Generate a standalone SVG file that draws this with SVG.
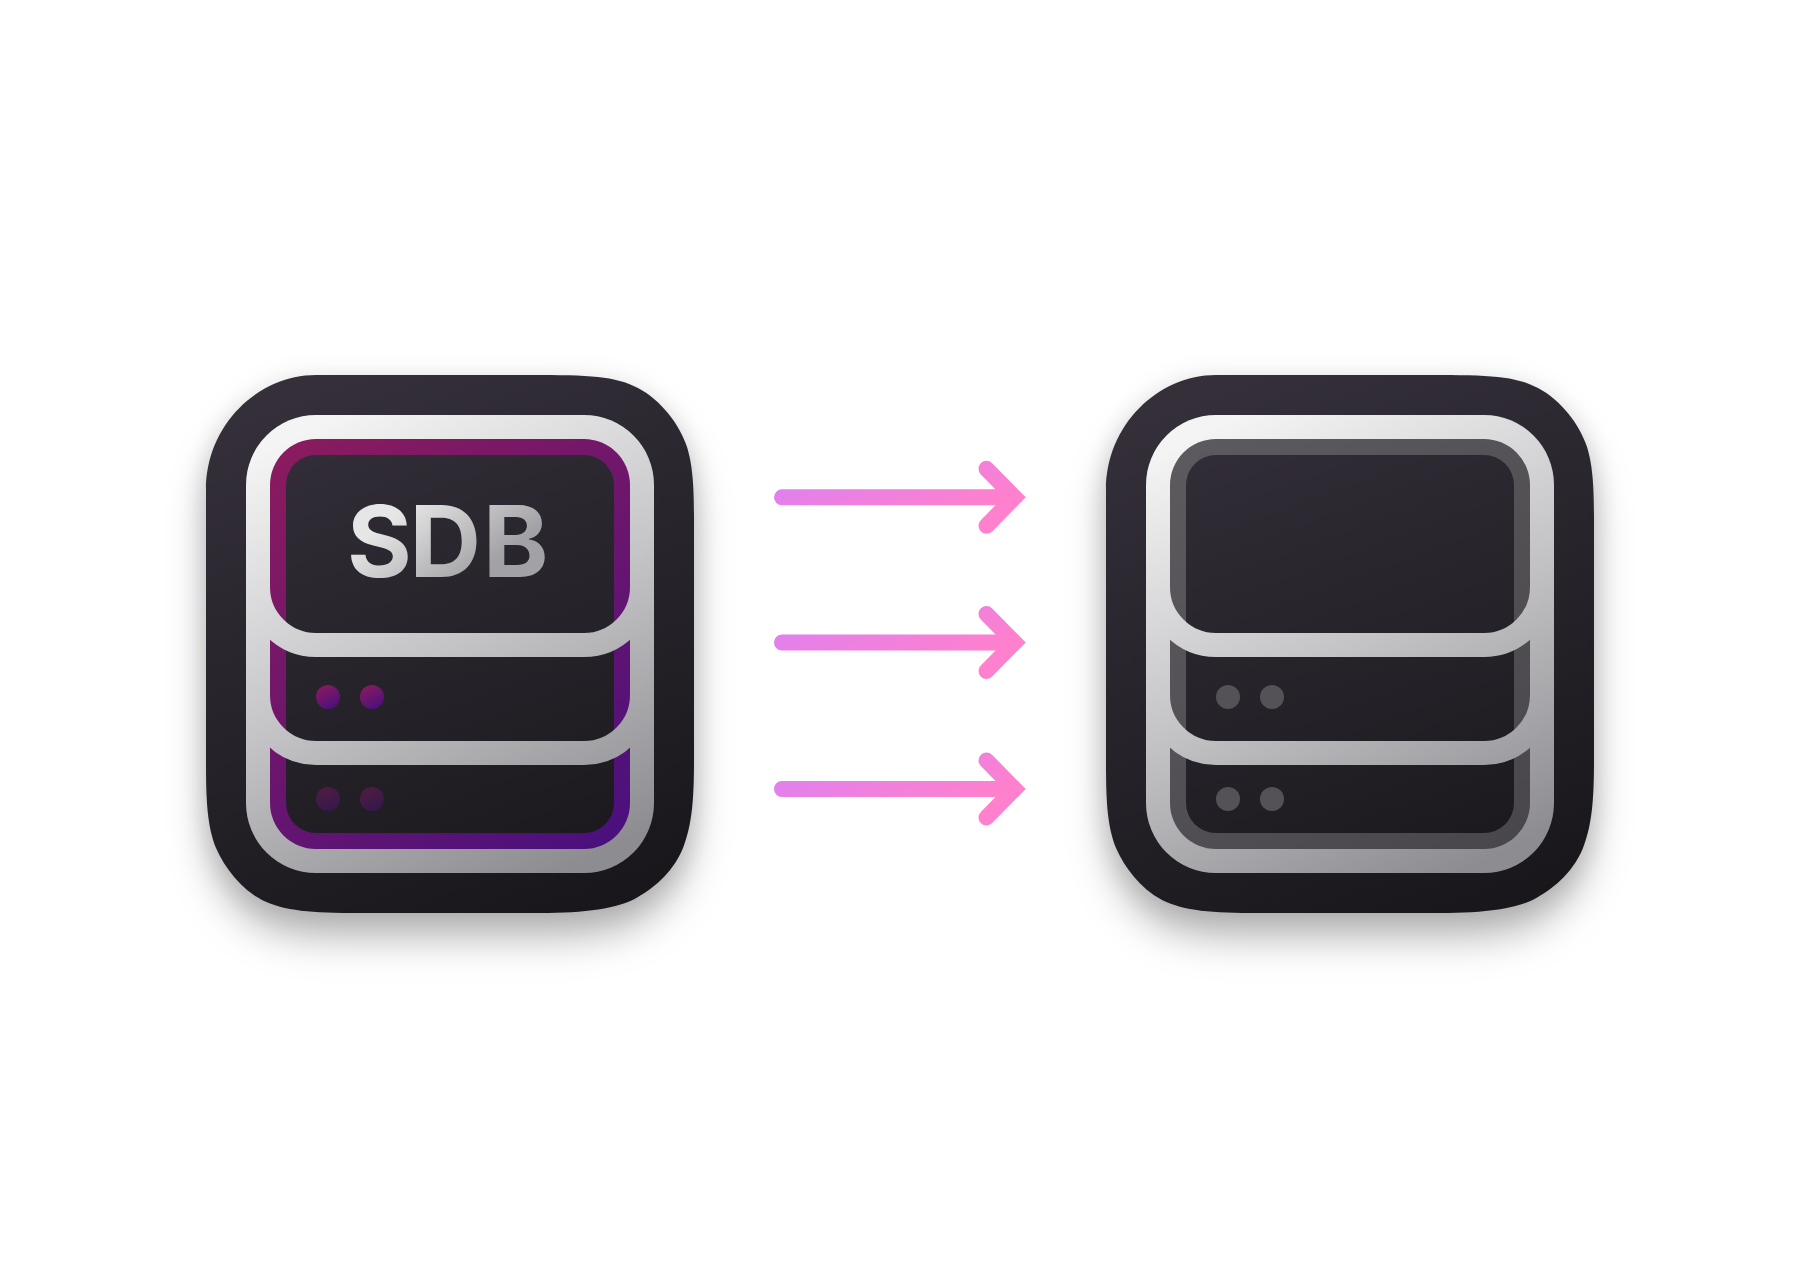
<svg xmlns="http://www.w3.org/2000/svg" width="1800" height="1286" viewBox="0 0 1800 1286">
<style>
.silver{fill:url(#silverL)}
.band{fill:none;stroke-width:24;stroke:url(#silverL)}
.arrow{fill:none;stroke:url(#pink);stroke-width:16;stroke-linecap:round;stroke-linejoin:miter}
.gd{fill:#545257}
.label{font-family:"Inter","Liberation Sans",sans-serif;font-weight:700;font-size:99px;fill:url(#txt)}
</style>
<defs>
<filter id="sh" x="-30%" y="-30%" width="160%" height="160%" color-interpolation-filters="sRGB">
<feDropShadow dx="0" dy="4" stdDeviation="14" flood-color="#000" flood-opacity=".12"/>
<feDropShadow dx="0" dy="26" stdDeviation="18" flood-color="#000" flood-opacity=".26"/>
</filter>
<linearGradient id="bodyL" gradientUnits="userSpaceOnUse" x1="350" y1="375" x2="550" y2="913"><stop offset="0" stop-color="#342f39"/><stop offset="1" stop-color="#19171c"/></linearGradient>
<linearGradient id="bodyR" gradientUnits="userSpaceOnUse" x1="1250" y1="375" x2="1450" y2="913"><stop offset="0" stop-color="#342f39"/><stop offset="1" stop-color="#19171c"/></linearGradient>
<linearGradient id="silverL" gradientUnits="userSpaceOnUse" x1="340" y1="415" x2="560" y2="873"><stop offset="0" stop-color="#f4f4f4"/><stop offset=".5" stop-color="#c4c4c7"/><stop offset="1" stop-color="#8d8d91"/></linearGradient>
<linearGradient id="silverR" gradientUnits="userSpaceOnUse" x1="1240" y1="415" x2="1460" y2="873"><stop offset="0" stop-color="#f4f4f4"/><stop offset=".5" stop-color="#c4c4c7"/><stop offset="1" stop-color="#8d8d91"/></linearGradient>
<linearGradient id="purple" gradientUnits="userSpaceOnUse" x1="300" y1="439" x2="600" y2="849"><stop offset="0" stop-color="#8a1b5e"/><stop offset="1" stop-color="#4b107d"/></linearGradient>
<linearGradient id="grey" gradientUnits="userSpaceOnUse" x1="1200" y1="439" x2="1500" y2="849"><stop offset="0" stop-color="#5c595f"/><stop offset="1" stop-color="#49474c"/></linearGradient>
<linearGradient id="dot" x1=".2" y1="0" x2=".7" y2="1"><stop offset="0" stop-color="#8a1b5e"/><stop offset="1" stop-color="#4b107d"/></linearGradient>
<linearGradient id="txt" gradientUnits="userSpaceOnUse" x1="410" y1="503" x2="470" y2="580"><stop offset="0" stop-color="#e6e6e6"/><stop offset="1" stop-color="#a2a2a6"/></linearGradient>
<linearGradient id="pink" x1="0" y1=".2" x2="1" y2=".8"><stop offset="0" stop-color="#df80f0"/><stop offset=".85" stop-color="#ff80cc"/></linearGradient>
<path id="squircle" d="M206 490C206 425 258 375 316 375L530 375C590 375 615 376 638 388C661 400 680 425 687 447C692 463 694 482 694 515L694 760C694 800 692 825 683 848C672 875 650 890 638 897C618 909 585 913 540 913L360 913C310 913 285 911 262 900C240 888 225 868 216 848C207 825 206 800 206 760Z"/>
</defs>
<rect width="1800" height="1286" fill="#fff"/>
<g id="node-sdb">
<use href="#squircle" fill="url(#bodyL)" filter="url(#sh)"/>
<rect class="silver" x="246" y="415" width="408" height="458" rx="70"/>
<rect x="270" y="439" width="360" height="410" rx="46" fill="url(#purple)"/>
<rect x="286" y="455" width="328" height="378" rx="30" fill="url(#bodyL)"/>
<path class="band" d="M258 587a58 58 0 0 0 58 58H584a58 58 0 0 0 58-58"/>
<path class="band" d="M258 695a58 58 0 0 0 58 58H584a58 58 0 0 0 58-58"/>
<text class="label" x="347 409.5 483" y="577">SDB</text>
<circle cx="328" cy="697" r="12" fill="url(#dot)"/>
<circle cx="372" cy="697" r="12" fill="url(#dot)"/>
<circle cx="328" cy="799" r="12" fill="url(#dot)" opacity=".45"/>
<circle cx="372" cy="799" r="12" fill="url(#dot)" opacity=".45"/>
</g>
<g id="node-empty">
<use href="#squircle" x="900" fill="url(#bodyL)" filter="url(#sh)"/>
<rect x="1146" y="415" width="408" height="458" rx="70" fill="url(#silverR)"/>
<rect x="1170" y="439" width="360" height="410" rx="46" fill="url(#grey)"/>
<rect x="1186" y="455" width="328" height="378" rx="30" fill="url(#bodyR)"/>
<path class="band" style="stroke:url(#silverR)" d="M1158 587a58 58 0 0 0 58 58H1484a58 58 0 0 0 58-58"/>
<path class="band" style="stroke:url(#silverR)" d="M1158 695a58 58 0 0 0 58 58H1484a58 58 0 0 0 58-58"/>
<circle class="gd" cx="1228" cy="697" r="12"/>
<circle class="gd" cx="1272" cy="697" r="12"/>
<circle class="gd" cx="1228" cy="799" r="12"/>
<circle class="gd" cx="1272" cy="799" r="12"/>
</g>
<g id="connectors">
<path class="arrow" d="M782 497.3H1010M986.5 468.8L1014.5 497.3L986.5 525.8"/>
<path class="arrow" d="M782 642.5H1010M986.5 614L1014.5 642.5L986.5 671"/>
<path class="arrow" d="M782 789H1010M986.5 760.5L1014.5 789L986.5 817.5"/>
</g>
</svg>
